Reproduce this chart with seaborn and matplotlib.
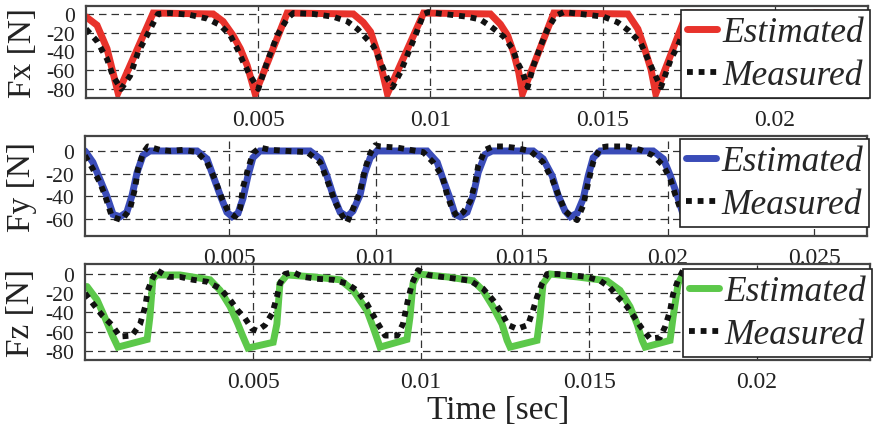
import matplotlib
matplotlib.use("Agg")
import matplotlib.pyplot as plt
from matplotlib.lines import Line2D
import numpy as np
import pandas as pd
import seaborn as sns

# ---------------- data ----------------
fx_est_t = [0, 0.00032, 0.00061, 0.00078, 0.00093, 0.00195, 0.00369, 0.00398, 0.00427, 0.00448,
            0.00468, 0.00485, 0.00491, 0.00584, 0.00776, 0.00805, 0.00826, 0.00846, 0.00863, 0.00875,
            0.00980, 0.01174, 0.01203, 0.01224, 0.01241, 0.01256, 0.01267, 0.01358, 0.01573, 0.01602,
            0.01619, 0.01640, 0.01654, 0.01744, 0.01936, 0.01988, 0.02032, 0.02119, 0.02273]
fx_est_v = [-3, -12, -37, -62, -84, 1, 0, -8, -23, -37,
            -55, -77, -85, 1, 0, -9, -19, -41, -66, -85,
            1, 0, -11, -23, -41, -62, -85, 1, 0, -16,
            -34, -59, -85, 1, 0, -30, -85, 1, -1]

fx_meas_t = [0, 0.00032, 0.00061, 0.00078, 0.00102, 0.00128, 0.00151, 0.00177, 0.00192, 0.00209,
             0.00244, 0.00302, 0.00352, 0.00390, 0.00419, 0.00439, 0.00456, 0.00477, 0.00500, 0.00526,
             0.00555, 0.00584, 0.00602, 0.00660, 0.00718, 0.00759, 0.00788, 0.00834, 0.00855, 0.00875,
             0.00890, 0.00913, 0.00936, 0.00956, 0.00980, 0.00994, 0.01038, 0.01108, 0.01145, 0.01174,
             0.01212, 0.01238, 0.01253, 0.01267, 0.01282, 0.01299, 0.01320, 0.01340, 0.01363, 0.01387,
             0.01436, 0.01503, 0.01544, 0.01576, 0.01610, 0.01631, 0.01648, 0.01669, 0.01698, 0.01718,
             0.01756, 0.01930, 0.02003, 0.02047, 0.02134, 0.02273]
fx_meas_v = [-16, -29, -48, -66, -80, -66, -41, -23, -12, 0,
             1, -1, -5, -12, -23, -37, -51, -66, -80, -51,
             -23, -5, 1, 0, -3, -8, -16, -34, -51, -69,
             -78, -62, -41, -23, 0, 2, 0, -3, -6, -13,
             -24, -37, -52, -62, -78, -55, -34, -16, -2, 2,
             0, -3, -9, -18, -31, -48, -62, -78, -48, -34,
             0, -3, -30, -78, 0, 0]

fy_est_t = [0.00007, 0.00034, 0.00058, 0.00082, 0.00103, 0.00127, 0.00150, 0.00168, 0.00185, 0.00205,
            0.00229, 0.00390, 0.00424, 0.00445, 0.00469, 0.00492, 0.00510, 0.00530, 0.00547, 0.00564,
            0.00581, 0.00605, 0.00776, 0.00811, 0.00834, 0.00855, 0.00879, 0.00903, 0.00923, 0.00947,
            0.00964, 0.00982, 0.01005, 0.01176, 0.01211, 0.01231, 0.01255, 0.01272, 0.01289, 0.01313,
            0.01334, 0.01351, 0.01375, 0.01399, 0.01539, 0.01573, 0.01604, 0.01624, 0.01648, 0.01666,
            0.01689, 0.01710, 0.01727, 0.01744, 0.01768, 0.01949, 0.01984, 0.02008, 0.02031, 0.02049,
            0.02076, 0.02110, 0.02144, 0.02172, 0.02681]
fy_est_v = [0, -10, -25, -40, -56, -58, -54, -39, -19, -4,
            0, 0, -7, -22, -39, -54, -58, -55, -42, -22,
            -6, 0, 0, -7, -22, -39, -54, -58, -53, -39,
            -19, -6, 0, 0, -10, -25, -42, -56, -58, -54,
            -39, -19, -3, 0, 0, -7, -22, -39, -53, -58,
            -55, -42, -22, -6, 0, 0, -7, -22, -39, -54,
            -59, -45, -15, 0, 0]

fy_meas_t = [0.00007, 0.00034, 0.00058, 0.00075, 0.00099, 0.00133, 0.00161, 0.00178, 0.00188, 0.00205,
             0.00222, 0.00263, 0.00298, 0.00342, 0.00390, 0.00424, 0.00451, 0.00475, 0.00496, 0.00520,
             0.00537, 0.00547, 0.00564, 0.00581, 0.00605, 0.00640, 0.00698, 0.00766, 0.00811, 0.00838,
             0.00862, 0.00886, 0.00903, 0.00923, 0.00947, 0.00964, 0.00982, 0.00999, 0.01016, 0.01074,
             0.01118, 0.01163, 0.01197, 0.01228, 0.01245, 0.01262, 0.01279, 0.01300, 0.01324, 0.01341,
             0.01351, 0.01375, 0.01402, 0.01436, 0.01471, 0.01529, 0.01573, 0.01604, 0.01624, 0.01648,
             0.01666, 0.01689, 0.01710, 0.01727, 0.01744, 0.01768, 0.01792, 0.01826, 0.01860, 0.01905,
             0.01949, 0.01984, 0.02008, 0.02025, 0.02042, 0.02076, 0.02144, 0.02178, 0.02384]
fy_meas_v = [-4, -16, -28, -39, -58, -61, -51, -33, -16, -2,
             4, 1, 0, 1, -1, -10, -25, -42, -53, -58,
             -51, -32, -16, -2, 3, 1, 0, -1, -10, -28,
             -45, -57, -63, -51, -36, -16, -2, 5, 4, 3,
             1, -1, -10, -22, -39, -51, -58, -54, -44, -28,
             -13, 1, 4, 4, 3, 0, -10, -25, -38, -53,
             -57, -61, -48, -28, -10, 3, 4, 4, 4, 1,
             -4, -13, -25, -39, -51, -60, -10, 3, 1]

fz_est_t = [0.00006, 0.00036, 0.00060, 0.00083, 0.00098, 0.00185, 0.00193, 0.00202, 0.00214, 0.00283,
            0.00372, 0.00402, 0.00432, 0.00455, 0.00470, 0.00485, 0.00560, 0.00571, 0.00580, 0.00601,
            0.00679, 0.00759, 0.00798, 0.00839, 0.00857, 0.00878, 0.00958, 0.00967, 0.00976, 0.00991,
            0.01077, 0.01155, 0.01184, 0.01214, 0.01241, 0.01256, 0.01265, 0.01345, 0.01354, 0.01363,
            0.01384, 0.01464, 0.01553, 0.01592, 0.01622, 0.01643, 0.01658, 0.01667, 0.01741, 0.01750,
            0.01765, 0.01780, 0.01949, 0.02009, 0.02062, 0.02143, 0.02158, 0.02336]
fz_est_v = [-13, -27, -46, -65, -76, -68, -45, -5, -1, -1,
            -6, -17, -34, -52, -65, -77, -71, -52, -10, -1,
            -3, -6, -17, -38, -55, -76, -68, -45, -10, 0,
            -3, -7, -17, -34, -52, -69, -76, -69, -45, -10,
            0, -3, -7, -17, -34, -52, -69, -76, -69, -45,
            -10, 0, -5, -20, -76, -69, -5, -7]

fz_meas_t = [0.0, 0.00024, 0.00051, 0.00080, 0.00104, 0.00140, 0.00164, 0.00179, 0.00187, 0.00199,
             0.00214, 0.00247, 0.00283, 0.00321, 0.00363, 0.00402, 0.00432, 0.00455, 0.00476, 0.00497,
             0.00512, 0.00536, 0.00557, 0.00571, 0.00580, 0.00595, 0.00619, 0.00649, 0.00690, 0.00738,
             0.00780, 0.00809, 0.00839, 0.00869, 0.00893, 0.00929, 0.00946, 0.00961, 0.00973, 0.00991,
             0.01021, 0.01062, 0.01107, 0.01146, 0.01184, 0.01214, 0.01241, 0.01259, 0.01286, 0.01318,
             0.01333, 0.01345, 0.01360, 0.01375, 0.01405, 0.01443, 0.01494, 0.01533, 0.01562, 0.01586,
             0.01613, 0.01637, 0.01658, 0.01681, 0.01711, 0.01726, 0.01741, 0.01750, 0.01765, 0.01780]
fz_meas_v = [-20, -31, -43, -53, -65, -64, -52, -34, -17, -6,
             4, -3, -3, -6, -8, -15, -27, -38, -46, -57,
             -59, -53, -41, -24, -10, 0, 2, -3, -5, -6,
             -10, -17, -31, -50, -64, -64, -52, -27, -10, 4,
             -1, -3, -5, -7, -15, -27, -41, -53, -57, -53,
             -38, -24, -10, 0, 0, -1, -3, -7, -14, -24,
             -34, -46, -57, -67, -66, -55, -38, -21, -6, 4]

series_labels = ["Estimated", "Measured"]
y_labels = ["Fx [N]", "Fy [N]", "Fz [N]"]
fx_xticks = [0.005, 0.01, 0.015, 0.02]
fy_xticks = [0.005, 0.01, 0.015, 0.02, 0.025]
fz_xticks = [0.005, 0.01, 0.015, 0.02]
fx_yticks = [0, -20, -40, -60, -80]
fy_yticks = [0, -20, -40, -60]
fz_yticks = [0, -20, -40, -60, -80]

# ---------------- styling ----------------
sns.set_theme(style="white")
plt.rcParams['font.family'] = ['Liberation Serif', 'DejaVu Serif']

W, H = 873, 431
fig = plt.figure(figsize=(W / 100, H / 100), dpi=100)
fig.patch.set_facecolor("white")


def rect(l, r, t, b):
    return [l / W, 1 - b / H, (r - l) / W, (b - t) / H]


panels = [
    dict(rect=rect(86, 868, 7, 99), te=fx_est_t, ve=fx_est_v, tm=fx_meas_t, vm=fx_meas_v,
         color="#e8322b", xlim=(0, 0.0227), ylim=(-89.6, 8.5), xt=fx_xticks, yt=fx_yticks,
         yl=y_labels[0], leg_y=1 - 4 / 92),
    dict(rect=rect(85, 867, 137, 237), te=fy_est_t, ve=fy_est_v, tm=fy_meas_t, vm=fy_meas_v,
         color="#3a4cb8", xlim=(0.00007, 0.0268), ylim=(-75, 13.2), xt=fy_xticks, yt=fy_yticks,
         yl=y_labels[1], leg_y=1 - 3 / 100),
    dict(rect=rect(85, 870, 265, 361), te=fz_est_t, ve=fz_est_v, tm=fz_meas_t, vm=fz_meas_v,
         color="#5cc84a", xlim=(0, 0.02336), ylim=(-89.4, 10.4), xt=fz_xticks, yt=fz_yticks,
         yl=y_labels[2], leg_y=1 - 5 / 96),
]

dot_style = (0, (1, 1))
for p in panels:
    ax = fig.add_axes(p["rect"])
    df_e = pd.DataFrame({"t": p["te"], "v": p["ve"]})
    df_m = pd.DataFrame({"t": p["tm"], "v": p["vm"]})
    sns.lineplot(data=df_e, x="t", y="v", ax=ax, color=p["color"], linewidth=5,
                 estimator=None, sort=False, legend=False, solid_joinstyle="miter")
    sns.lineplot(data=df_m, x="t", y="v", ax=ax, color="#111111", linewidth=4.2,
                 linestyle=dot_style, dash_capstyle="butt",
                 estimator=None, sort=False, legend=False)
    ax.set_xlim(*p["xlim"])
    ax.set_ylim(*p["ylim"])
    ax.set_xticks(p["xt"])
    ax.set_xticklabels([f"{v:g}" for v in p["xt"]])
    ax.set_yticks(p["yt"])
    ax.set_yticklabels([str(v) for v in p["yt"]])
    ax.tick_params(axis="x", labelsize=17, pad=2, colors="#222222")
    ax.tick_params(axis="y", labelsize=15.5, pad=2, colors="#222222")
    ax.set_xlabel("")
    ax.set_ylabel(p["yl"], fontsize=24, color="#222222")
    ax.yaxis.set_label_coords(-0.062, 0.5)
    ax.grid(True, color="#333333", linewidth=0.9, linestyle=(0, (6, 4)))
    for s in ax.spines.values():
        s.set_color("#444444")
        s.set_linewidth(1.6)
    handles = [Line2D([], [], color=p["color"], linewidth=5),
               Line2D([], [], color="#111111", linewidth=4.2, linestyle=dot_style,
                      dash_capstyle="butt")]
    leg = ax.legend(handles, series_labels, loc="upper right",
                    bbox_to_anchor=(1.003, p["leg_y"]), borderaxespad=0,
                    prop={"family": "Liberation Serif", "style": "italic", "size": 25.5},
                    frameon=True, fancybox=False, framealpha=1, edgecolor="#222222",
                    handlelength=0.85, handletextpad=0.15, borderpad=0.17, labelspacing=0.28)
    leg.get_frame().set_linewidth(1.2)

fig.text(498 / W, 1 - 411 / H, "Time [sec]", ha="center", va="center", fontsize=24,
         color="#222222")

fig.savefig("out.png", dpi=100, facecolor="white")
